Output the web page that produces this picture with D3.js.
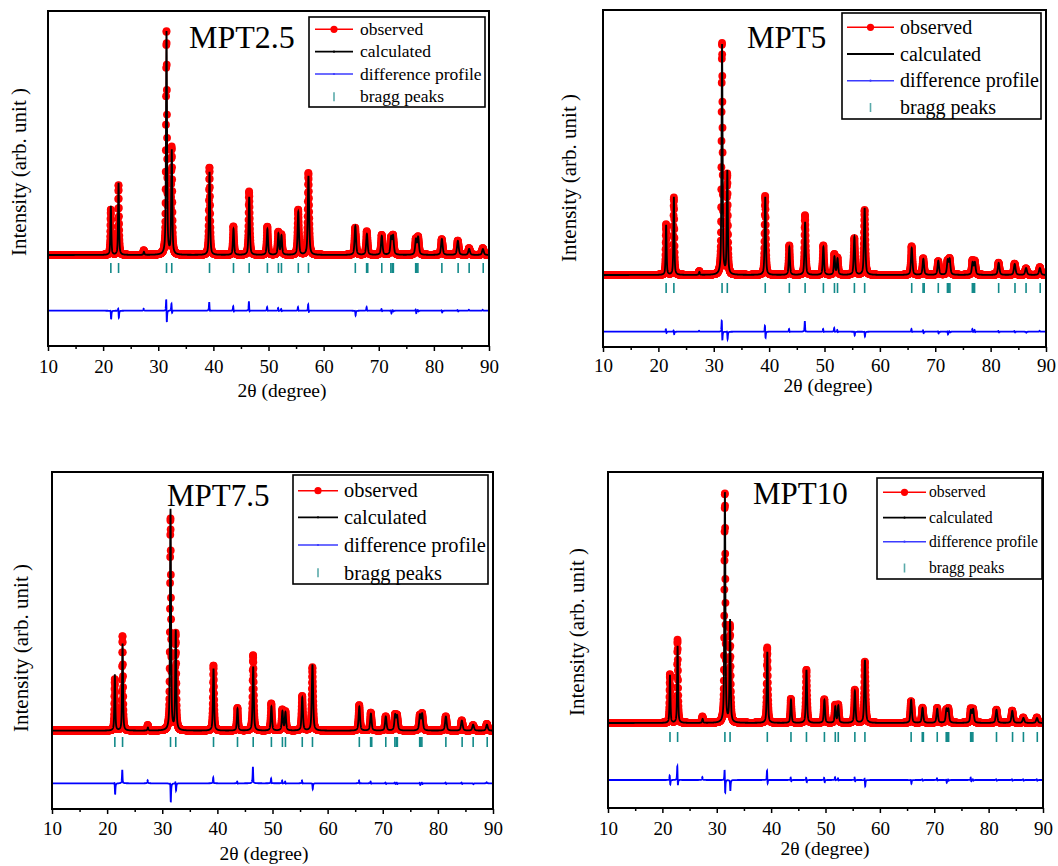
<!DOCTYPE html>
<html>
<head>
<meta charset="utf-8">
<script src="https://cdn.jsdelivr.net/npm/d3@7"></script>
<style>
  body { margin: 0; background: #fff; }
  svg text { font-family: "Liberation Serif", "Times New Roman", serif; fill: #000; }
</style>
</head>
<body>
<svg id="chart" width="1058" height="866"></svg>
<script>
// x axis (2θ, degree)
const xDomain = [10, 90];
const xMajorTicks = [10, 20, 30, 40, 50, 60, 70, 80, 90];
const xMinorTicks = [15, 25, 35, 45, 55, 65, 75, 85];

const legendLabels = ['observed', 'calculated', 'difference profile', 'bragg peaks'];

// reflection positions used for the profiles (2θ)
const peakPos = [21.4, 22.8, 27.4, 31.5, 32.45, 39.3, 43.65, 46.5, 49.8, 51.8, 52.35, 55.4,
                 57.25, 65.75, 67.85, 70.55, 72.25, 72.6, 76.75, 77.15, 81.45, 84.35, 86.4, 88.9];

// bragg tick positions (2θ)
const braggPos = [21.4, 22.8, 31.5, 32.45, 39.3, 43.65, 46.5, 49.8, 51.8, 52.35, 55.4, 57.25,
                  65.75, 67.8, 68.0, 70.55, 72.2, 72.45, 72.65, 76.7, 76.9, 77.1, 81.45, 84.4, 86.4, 88.95];

// calculated peak intensities (arb. unit), one per peakPos
const calcMPT25  = [49, 72, 3, 223, 104, 83, 26, 58, 26, 21, 19, 43, 79, 29, 21, 19, 17, 18, 15, 17, 16, 14, 6, 6];
const calcMPT5   = [50, 78, 3, 230, 103, 78, 28, 53, 28, 18, 16, 38, 67, 27, 16, 14, 14, 15, 12, 12, 12, 11, 7, 7];
const calcMPT75  = [56, 87, 3, 221, 99, 62, 22, 64, 24, 19, 18, 33, 66, 24, 17, 14, 15, 14, 15, 16, 14, 10, 6, 6];
const calcMPT10  = [48, 77, 4, 230, 102, 71, 23, 53, 23, 16, 17, 32, 63, 23, 15, 14, 13, 13, 12, 13, 13, 12, 5, 5];

// difference profile: positive / negative excursions at each peak (arb. unit)
const diffHiMPT25 = [2, 4, 2, 15, 8, 9, 5, 10, 4, 3, 2, 4, 7, 1, 4, 2, 1, 1, 2, 1, 1, 1, 1, 1];
const diffLoMPT25 = [9, 8, 0, 15, 4, 2, 2, 3, 1, 1, 1, 1, 3, 5, 1, 1, 3, 1, 3, 1, 2, 1, 0, 0];
const diffHiMPT5  = [3, 2, 1, 14, 2, 8, 3, 11, 3, 4, 2, 1, 1, 3, 2, 1, 1, 1, 3, 2, 1, 1, 0, 1];
const diffLoMPT5  = [2, 3, 0, 12, 8, 8, 1, 2, 1, 1, 1, 4, 5, 1, 2, 2, 3, 1, 1, 1, 1, 1, 1, 0];
const diffHiMPT75 = [3, 14, 3, 4, 3, 6, 2, 17, 5, 3, 2, 3, 1, 3, 2, 1, 1, 1, 1, 1, 1, 1, 0, 1];
const diffLoMPT75 = [12, 2, 0, 20, 8, 1, 1, 2, 1, 1, 1, 1, 6, 1, 1, 1, 1, 1, 2, 1, 1, 1, 1, 0];
const diffHiMPT10 = [6, 16, 3, 14, 1, 11, 3, 3, 3, 3, 2, 3, 3, 1, 1, 2, 1, 1, 3, 1, 1, 1, 1, 1];
const diffLoMPT10 = [6, 9, 0, 16, 11, 6, 2, 3, 3, 1, 1, 2, 7, 4, 1, 1, 3, 1, 2, 1, 1, 1, 1, 1];

const colors = { obs: '#ff0000', calc: '#000000', diff: '#0000ff', bragg: '#138a8a', braggLegend: '#5aaaaa', legendDiff: '#3b3bff' };

// layout of the four panels
const panels = [
  { name: 'MPT2.5', calc: calcMPT25, hi: diffHiMPT25, lo: diffLoMPT25,
    left: 48, right: 489, top: 11, bottom: 346, base: 255, bragg: [-8, -18], diffOff: -55.7,
    title: { x: 189, y: 48, size: 32 },
    legend: { x0: 309, y0: 17, x1: 485, y1: 107, font: 17.5, rows: [29.3, 51.7, 74, 96.7], lx0: 315, lx1: 353, tx: 360 },
    labelY: 27, xTitle: { x: 282, y: 397 }, yTitle: { x: 26, y: 172 } },
  { name: 'MPT5', calc: calcMPT5, hi: diffHiMPT5, lo: diffLoMPT5,
    left: 603, right: 1046, top: 10, bottom: 347, base: 275, bragg: [-8, -18], diffOff: -56.7,
    title: { x: 747, y: 48, size: 31 },
    legend: { x0: 842, y0: 13, x1: 1041, y1: 119, font: 20, rows: [27.3, 54, 80.7, 107.5], lx0: 847, lx1: 894, tx: 900 },
    labelY: 25, xTitle: { x: 828, y: 392 }, yTitle: { x: 576, y: 178 } },
  { name: 'MPT7.5', calc: calcMPT75, hi: diffHiMPT75, lo: diffLoMPT75,
    left: 52, right: 493, top: 472, bottom: 809, base: 730.7, bragg: [-6.3, -16.3], diffOff: -52.6,
    title: { x: 167, y: 506, size: 31 },
    legend: { x0: 293, y0: 475, x1: 488, y1: 584, font: 20.4, rows: [490.7, 517.3, 545, 572.8], lx0: 298, lx1: 338, tx: 344 },
    labelY: 26, xTitle: { x: 264, y: 860 }, yTitle: { x: 28, y: 648 } },
  { name: 'MPT10', calc: calcMPT10, hi: diffHiMPT10, lo: diffLoMPT10,
    left: 608, right: 1043, top: 472, bottom: 808, base: 723, bragg: [-9, -19], diffOff: -57,
    title: { x: 753, y: 504, size: 31 },
    legend: { x0: 877, y0: 478, x1: 1042, y1: 579, font: 15.7, rows: [492.3, 517.7, 541.7, 568], lx0: 883, lx1: 926, tx: 929 },
    labelY: 27, xTitle: { x: 825, y: 855 }, yTitle: { x: 583.5, y: 632 } }
];

// peak shape (pseudo-Voigt) used to build the profiles from the peak table
const eta = 0.6;
function fwhmAt(tt) { return 0.19 + 0.0025 * (tt - 20); }
function pv(t, c) {
  const g = fwhmAt(c) / 2;
  const u = (t - c) / g;
  return eta / (1 + u * u) + (1 - eta) * Math.exp(-Math.LN2 * u * u);
}
function lor(t, c, g) { const u = (t - c) / g; return 1 / (1 + u * u); }

const svg = d3.select('#chart');
const defs = svg.append('defs');

panels.forEach((p, k) => {
  const x = d3.scaleLinear().domain(xDomain).range([p.left, p.right]);
  const y = d3.scaleLinear().domain([0, 100]).range([p.base, p.base - 100]);

  const calcAt = t => d3.sum(peakPos, (c, i) => p.calc[i] * pv(t, c));
  const diffAt = t => d3.sum(peakPos, (c, i) =>
    p.hi[i] * lor(t, c - 0.05, 0.06) - p.lo[i] * lor(t, c + 0.05, 0.06));

  const fine = d3.range(xDomain[0], xDomain[1] + 1e-9, 0.01).map(t => ({ t, calc: calcAt(t), diff: diffAt(t) }));
  const obs = fine.filter((d, i) => i % 2 === 0).map(d => ({ t: d.t, v: d.calc + d.diff }));

  defs.append('clipPath').attr('id', 'clip' + k)
    .append('rect')
    .attr('x', p.left).attr('y', p.top)
    .attr('width', p.right - p.left).attr('height', p.bottom - p.top);

  const g = svg.append('g');
  const plot = g.append('g').attr('clip-path', `url(#clip${k})`);

  // observed
  plot.append('path')
    .datum(obs)
    .attr('fill', 'none')
    .attr('stroke', colors.obs)
    .attr('stroke-width', 1)
    .attr('d', d3.line().x(d => x(d.t)).y(d => y(d.v)));

  plot.append('g')
    .selectAll('circle')
    .data(obs)
    .enter()
    .append('circle')
    .attr('cx', d => x(d.t))
    .attr('cy', d => y(d.v))
    .attr('r', 3.9)
    .attr('fill', colors.obs);

  // calculated
  plot.append('path')
    .datum(fine)
    .attr('fill', 'none')
    .attr('stroke', colors.calc)
    .attr('stroke-width', 1.8)
    .attr('d', d3.line().x(d => x(d.t)).y(d => y(d.calc)));

  // bragg ticks
  plot.append('g')
    .selectAll('line')
    .data(braggPos)
    .enter()
    .append('line')
    .attr('x1', d => x(d)).attr('x2', d => x(d))
    .attr('y1', y(p.bragg[0])).attr('y2', y(p.bragg[1]))
    .attr('stroke', colors.bragg)
    .attr('stroke-width', 1.6);

  // difference
  plot.append('path')
    .datum(fine)
    .attr('fill', 'none')
    .attr('stroke', colors.diff)
    .attr('stroke-width', 1.8)
    .attr('d', d3.line().x(d => x(d.t)).y(d => y(p.diffOff + d.diff)));

  // frame
  g.append('rect')
    .attr('x', p.left).attr('y', p.top)
    .attr('width', p.right - p.left).attr('height', p.bottom - p.top)
    .attr('fill', 'none')
    .attr('stroke', '#000')
    .attr('stroke-width', 2);

  // x axis
  const ax = g.append('g')
    .attr('transform', `translate(0,${p.bottom})`)
    .call(d3.axisBottom(x).tickValues(xMajorTicks).tickSize(5).tickSizeOuter(0).tickFormat(d3.format('d')));
  ax.attr('font-family', null);
  ax.select('.domain').remove();
  ax.selectAll('line').attr('stroke-width', 1.5);
  ax.selectAll('text')
    .attr('dy', null)
    .attr('y', p.labelY)
    .style('font-size', '19px')
    .style('font-family', '"Liberation Serif", serif');

  const axm = g.append('g')
    .attr('transform', `translate(0,${p.bottom})`)
    .call(d3.axisBottom(x).tickValues(xMinorTicks).tickSize(3).tickSizeOuter(0).tickFormat(''));
  axm.select('.domain').remove();
  axm.selectAll('line').attr('stroke-width', 1.5);

  // axis titles
  g.append('text')
    .attr('x', p.xTitle.x).attr('y', p.xTitle.y)
    .attr('text-anchor', 'middle')
    .style('font-size', '19.5px')
    .text('2θ (degree)');

  g.append('text')
    .attr('transform', `translate(${p.yTitle.x},${p.yTitle.y}) rotate(-90)`)
    .attr('text-anchor', 'middle')
    .style('font-size', '21px')
    .text('Intensity (arb. unit )');

  // sample name
  g.append('text')
    .attr('x', p.title.x).attr('y', p.title.y)
    .style('font-size', p.title.size + 'px')
    .text(p.name);

  // legend
  const L = p.legend;
  const lg = g.append('g');
  lg.append('rect')
    .attr('x', L.x0).attr('y', L.y0)
    .attr('width', L.x1 - L.x0).attr('height', L.y1 - L.y0)
    .attr('fill', '#fff')
    .attr('stroke', '#000')
    .attr('stroke-width', 1.6);

  const mid = (L.lx0 + L.lx1) / 2;
  const symColors = [colors.obs, colors.calc, colors.legendDiff];
  symColors.forEach((c, i) => {
    lg.append('line')
      .attr('x1', L.lx0).attr('x2', L.lx1)
      .attr('y1', L.rows[i]).attr('y2', L.rows[i])
      .attr('stroke', c)
      .attr('stroke-width', i === 1 ? 1.8 : 1.4);
    lg.append('circle')
      .attr('cx', mid).attr('cy', L.rows[i])
      .attr('r', i === 0 ? 3.6 : 1.1)
      .attr('fill', c);
  });
  lg.append('line')
    .attr('x1', mid).attr('x2', mid)
    .attr('y1', L.rows[3] - 4.5).attr('y2', L.rows[3] + 4.5)
    .attr('stroke', colors.braggLegend)
    .attr('stroke-width', 1.6);

  legendLabels.forEach((t, i) => {
    lg.append('text')
      .attr('x', L.tx)
      .attr('y', L.rows[i] + L.font * 0.33)
      .style('font-size', L.font + 'px')
      .text(t);
  });
});
</script>
</body>
</html>
